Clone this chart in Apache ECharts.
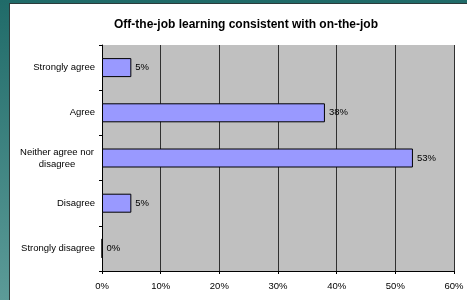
<!DOCTYPE html>
<html>
	<head>
		<meta charset="UTF-8">
		<title>Off-the-job learning</title>
		<script src="https://cdn.jsdelivr.net/npm/echarts@6/dist/echarts.min.js"></script>
		<style type="text/css">
			html, body {
				margin: 0;
				padding: 0;
			}
			body {
				width: 467px;
				height: 300px;
				position: relative;
				overflow: hidden;
				background: linear-gradient(to bottom, #206b69, #5c9b98);
			}
			#panel {
				position: absolute;
				left: 9px;
				top: 3px;
				right: 0;
				bottom: 0;
				background: #fff;
				border-top: 1px solid #2b3b3b;
				border-left: 1px solid #2b3b3b;
			}
			#chart {
				position: absolute;
				left: 0;
				top: 0;
				width: 467px;
				height: 300px;
			}
		</style>
	</head>
	<body>
		<div id="panel"></div>
		<div id="chart"></div>
		<script type="text/javascript">
			// survey answers, top to bottom
			var categories = ['Strongly agree', 'Agree', 'Neither agree nor\ndisagree', 'Disagree', 'Strongly disagree'];
			var percents = [5, 38, 53, 5, 0];
			var tickValues = [0, 10, 20, 30, 40, 50, 60];

			var font = 'Liberation Sans, Arial, sans-serif';
			var chart = echarts.init(document.getElementById('chart'));
			var option = {
				animation: false,
				title: {
					text: 'Off-the-job learning consistent with on-the-job',
					left: 241,
					textAlign: 'center',
					top: 14,
					textStyle: {
						fontFamily: font,
						fontSize: 12,
						fontWeight: 'bold',
						color: '#000'
					}
				},
				grid: {
					left: 102,
					right: 13,
					top: 45,
					bottom: 29,
					show: true,
					backgroundColor: '#c0c0c0',
					borderWidth: 0
				},
				xAxis: {
					type: 'value',
					min: tickValues[0],
					max: tickValues[tickValues.length - 1],
					interval: 10,
					axisLine: { show: true, lineStyle: { color: '#000', width: 1 } },
					axisTick: { show: true, length: 3, lineStyle: { color: '#000' } },
					splitLine: { show: true, lineStyle: { color: '#303030', width: 1 } },
					axisLabel: {
						margin: 10,
						fontFamily: font,
						fontSize: 9.5,
						color: '#000',
						formatter: '{value}%'
					}
				},
				yAxis: {
					type: 'category',
					inverse: true,
					data: categories,
					axisLine: { show: true, lineStyle: { color: '#000', width: 1 } },
					axisTick: { show: true, length: 3, lineStyle: { color: '#000' } },
					splitLine: { show: false },
					axisLabel: {
						margin: 7,
						fontFamily: font,
						fontSize: 9.5,
						color: '#000',
						lineHeight: 12,
						formatter: function(v) {
							if(v.indexOf('\n') >= 0) {
								return '{m|' + v + '}';
							}
							return v;
						},
						rich: {
							m: {
								width: 76,
								align: 'center',
								fontFamily: font,
								fontSize: 9.5,
								lineHeight: 12,
								color: '#000'
							}
						}
					}
				},
				series: [{
					type: 'bar',
					data: percents,
					barWidth: 19,
					itemStyle: {
						color: '#9999ff',
						borderColor: '#000',
						borderWidth: 1
					},
					label: {
						show: true,
						position: 'right',
						distance: 4,
						fontFamily: font,
						fontSize: 9.5,
						color: '#000',
						formatter: '{c}%'
					}
				}]
			};
			chart.setOption(option);
		</script>
	</body>
</html>
